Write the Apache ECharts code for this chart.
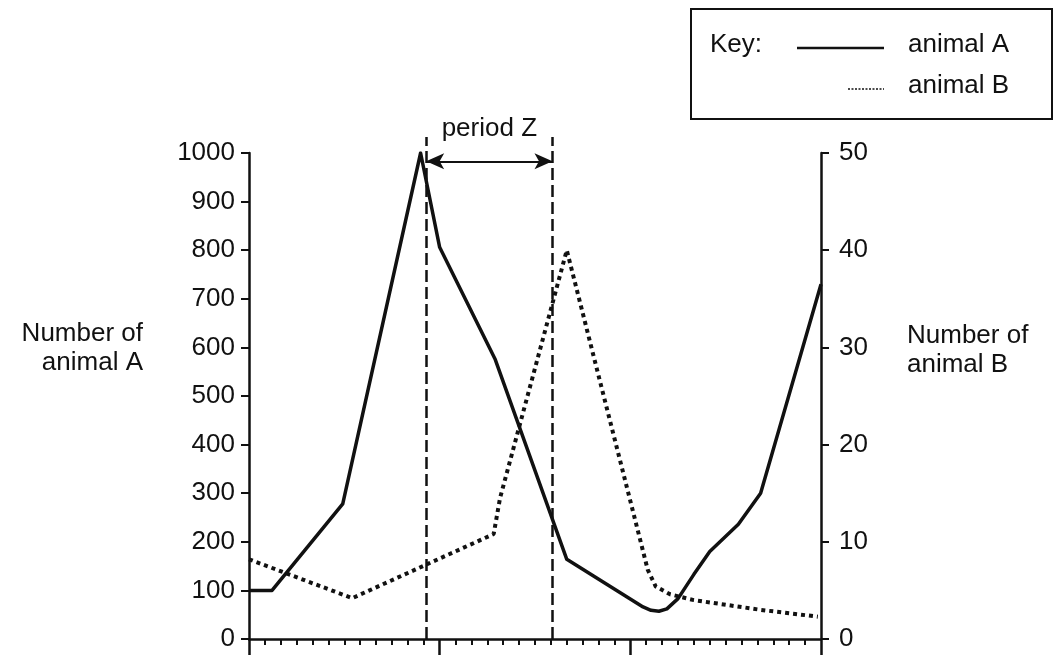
<!DOCTYPE html>
<html>
<head>
<meta charset="utf-8">
<script src="https://cdn.jsdelivr.net/npm/echarts@6/dist/echarts.min.js"></script>
<style>
  html, body { margin: 0; padding: 0; background: #fff; }
  #chart { width: 1054px; height: 661px; }
</style>
</head>
<body>
<div id="chart"></div>
<script>
// animal A, read against left axis (0-1000), x = months 0-36
const animalA = [
  [0, 100], [1.45, 100], [5.9, 278], [10.8, 1000], [12, 806], [15.5, 575],
  [20, 164], [24.8, 66], [25.3, 59], [25.8, 57], [26.3, 62], [27, 83],
  [28, 133], [29, 180], [30.8, 236], [32.2, 300], [36, 730]
];
// animal B, read against right axis (0-50)
const animalB = [
  [0, 8.2], [6.5, 4.2], [15.4, 10.8], [15.8, 14.5], [20, 40], [25.1, 7.1],
  [25.6, 5.4], [26.5, 4.6], [28, 4.0], [30.1, 3.5], [32.2, 3.0], [35.8, 2.3]
];
// period Z boundaries (x) and annotation heights (left axis units)
const periodZ = [11.15, 19.1];
const arrowLevel = 983;
const dashTop = 1033;

const font = "'Liberation Sans', Arial, sans-serif";
const ink = "#111";
const fs = 26;

const chart = echarts.init(document.getElementById("chart"));

chart.setOption({
  animation: false,
  backgroundColor: "#fff",
  textStyle: { fontFamily: font, color: ink },
  grid: [
    { left: 249, right: 233, top: 153, bottom: 22 },
    // annotation grid, same x scale, taller so the markers can rise above 1000
    { left: 249, right: 233, top: 137, bottom: 22 }
  ],
  xAxis: [
    {
      type: "value",
      gridIndex: 0,
      min: 0,
      max: 36,
      interval: 12,
      axisLine: { lineStyle: { color: ink, width: 2.5 } },
      axisTick: { show: true, length: 16, lineStyle: { color: ink, width: 2.5 } },
      minorTick: { show: true, splitNumber: 12, length: 6, lineStyle: { color: ink, width: 2 } },
      axisLabel: { show: false },
      splitLine: { show: false }
    },
    {
      type: "value",
      gridIndex: 1,
      min: 0,
      max: 36,
      show: false
    }
  ],
  yAxis: [
    {
      type: "value",
      gridIndex: 0,
      position: "left",
      min: 0,
      max: 1000,
      interval: 100,
      axisLine: { show: true, lineStyle: { color: ink, width: 2.5 } },
      axisTick: { show: true, length: 8, lineStyle: { color: ink, width: 2 } },
      axisLabel: { margin: 14, fontSize: fs, color: ink, fontFamily: font, formatter: v => String(v) },
      splitLine: { show: false }
    },
    {
      type: "value",
      gridIndex: 0,
      position: "right",
      min: 0,
      max: 50,
      interval: 10,
      axisLine: { show: true, lineStyle: { color: ink, width: 2.5 } },
      axisTick: { show: true, length: 8, lineStyle: { color: ink, width: 2 } },
      axisLabel: { margin: 18, fontSize: fs, color: ink, fontFamily: font },
      splitLine: { show: false }
    },
    {
      type: "value",
      gridIndex: 1,
      min: 0,
      max: dashTop,
      show: false
    }
  ],
  series: [
    {
      name: "animal A",
      type: "line",
      xAxisIndex: 0,
      yAxisIndex: 0,
      data: animalA,
      symbol: "none",
      lineStyle: { color: ink, width: 3.5, join: "round" }
    },
    {
      name: "animal B",
      type: "line",
      xAxisIndex: 0,
      yAxisIndex: 1,
      data: animalB,
      symbol: "none",
      lineStyle: { color: ink, width: 4, type: [4, 4] }
    },
    {
      name: "period Z",
      type: "line",
      xAxisIndex: 1,
      yAxisIndex: 2,
      data: [],
      markLine: {
        silent: true,
        animation: false,
        data: [
          [
            { coord: [periodZ[0], 0], symbol: "none", lineStyle: { color: ink, width: 2.5, type: [12, 5] }, label: { show: false } },
            { coord: [periodZ[0], dashTop], symbol: "none" }
          ],
          [
            { coord: [periodZ[1], 0], symbol: "none", lineStyle: { color: ink, width: 2.5, type: [12, 5] }, label: { show: false } },
            { coord: [periodZ[1], dashTop], symbol: "none" }
          ],
          [
            {
              coord: [periodZ[0], arrowLevel],
              symbol: "arrow",
              symbolSize: [12, 18],
              lineStyle: { color: ink, width: 2, type: "solid" },
              label: {
                show: true,
                formatter: "period Z",
                position: "insideMiddleTop",
                distance: 19,
                fontSize: fs,
                color: ink,
                fontFamily: font
              }
            },
            { coord: [periodZ[1], arrowLevel], symbol: "arrow", symbolSize: [12, 18] }
          ]
        ]
      }
    }
  ],
  graphic: [
    {
      type: "text",
      right: 1054 - 143,
      top: 319,
      style: { text: "Number of\nanimal A", font: fs + "px " + font, fill: ink, textAlign: "right", lineHeight: 29 }
    },
    {
      type: "text",
      left: 907,
      top: 321,
      style: { text: "Number of\nanimal B", font: fs + "px " + font, fill: ink, lineHeight: 29 }
    },
    {
      type: "group",
      left: 690,
      top: 8,
      children: [
        { type: "rect", shape: { x: 0, y: 0, width: 361, height: 110 }, style: { fill: "#fff", stroke: ink, lineWidth: 2 } },
        { type: "text", x: 19, y: 23, style: { text: "Key:", font: fs + "px " + font, fill: ink } },
        { type: "line", shape: { x1: 106, y1: 39, x2: 193, y2: 39 }, style: { stroke: ink, lineWidth: 2.5 } },
        { type: "text", x: 217, y: 23, style: { text: "animal A", font: fs + "px " + font, fill: ink } },
        { type: "line", shape: { x1: 157, y1: 80, x2: 193, y2: 80 }, style: { stroke: ink, lineWidth: 1.5, lineDash: [2, 1.5] } },
        { type: "text", x: 217, y: 64, style: { text: "animal B", font: fs + "px " + font, fill: ink } }
      ]
    }
  ]
});
</script>
</body>
</html>
